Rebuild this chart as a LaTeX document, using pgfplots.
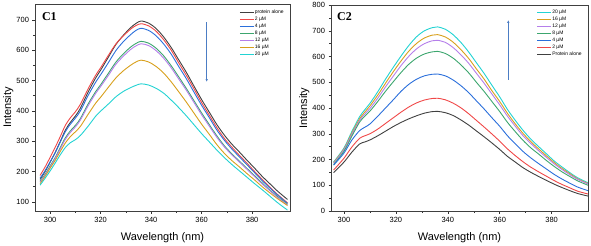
\documentclass[border=0pt]{standalone}
\usepackage{pgfplots}
\pgfplotsset{compat=1.18}
\usepackage{pgfplotstable}
\usepackage{fontspec}
\setmainfont{Liberation Sans}
\newfontfamily\serifb{Liberation Serif}
\usetikzlibrary{arrows.meta}
\definecolor{cblack}{HTML}{404040}
\definecolor{cred}{HTML}{F04848}
\definecolor{cblue}{HTML}{2B6FDB}
\definecolor{cgreen}{HTML}{3CA66E}
\definecolor{cpurple}{HTML}{B57FEA}
\definecolor{corange}{HTML}{D8A01C}
\definecolor{ccyan}{HTML}{22D3D3}
\definecolor{carrow}{HTML}{4C7DC4}

\pgfplotstableread{
wl  k   r   b   g   p   o   c
296 174 187 178 168 165 160 155
298 200 215 203 191 188 184 178
300 231 247 232 219 215 211 202
302 263 280 262 246 243 237 228
304 299 315 297 279 274 266 255
306 336 352 331 311 306 294 279
308 362 377 356 334 329 315 295
310 383 397 376 352 347 331 305
312 409 422 400 375 370 349 319
315 461 472 450 422 416 388 349
318 508 517 494 463 457 425 382
320 534 542 519 486 480 445 399
323 576 582 558 523 516 477 422
326 618 620 598 560 553 508 446
329 649 647 628 588 580 532 464
332 675 670 652 611 603 551 477
334 688 681 665 622 614 561 484
336 696 687 672 629 621 567 489
339 689 680 665 623 615 561 485
342 671 662 647 606 598 546 474
345 643 634 620 581 573 524 458
348 608 599 586 548 541 495 435
351 567 557 545 511 504 462 410
354 526 516 505 473 467 428 383
357 481 472 461 433 427 392 354
360 437 427 418 393 387 356 325
363 396 386 378 355 350 323 298
366 355 345 337 318 313 289 271
369 320 309 303 285 281 260 246
372 290 280 274 258 255 236 223
375 264 253 248 234 231 215 202
378 237 227 222 210 207 193 181
381 211 200 196 186 183 172 160
384 184 174 170 162 159 150 140
387 160 149 146 139 137 130 119
390 136 125 123 118 115 111 98
394 108 97  95  92  90  88  73
}\lefttab

\pgfplotstableread{
wl  k   r   b   g   p   o   c
296 149 159 178 180 185 188 190
300 190 205 225 232 238 241 245
303 228 248 275 290 297 302 308
306 260 282 312 345 352 358 366
308 268 292 325 368 376 384 393
310 276 300 338 388 398 408 418
313 292 318 368 425 438 450 463
316 310 340 400 465 482 496 512
319 328 362 432 502 524 541 558
322 344 384 465 538 565 583 602
325 358 404 492 570 601 621 643
328 370 420 512 594 630 651 677
331 380 431 525 610 650 672 700
334 386 437 531 618 661 683 712
336 387 438 532 620 663 685 715
339 382 432 525 612 655 676 706
342 371 419 509 594 635 656 685
345 354 401 487 568 607 627 655
348 334 378 460 537 574 593 618
351 311 352 428 500 535 552 576
354 288 326 396 464 496 512 534
357 264 299 362 425 454 467 488
360 239 271 329 386 412 425 443
363 212 241 292 344 368 379 394
366 190 215 261 308 329 338 352
369 168 191 231 274 292 301 313
372 150 170 206 245 262 269 279
375 134 152 184 221 234 241 250
378 119 135 163 196 208 214 222
381 104 118 142 173 183 188 194
384 91  103 124 152 161 165 171
387 79  90  108 134 141 145 149
390 68  77  93  117 123 125 129
394 58  66  79  100 105 107 110
}\righttab

\pgfplotsset{
  spec/.style={
    scale only axis,
    xtick={300,320,...,380},
    minor x tick num=1,
    minor y tick num=1,
    tick align=outside,
    xtick pos=lower, ytick pos=left,
    major tick length=2.5pt, minor tick length=1.6pt,
    tick style={black!80, line width=0.5pt},
    axis line style={black!75, line width=0.8pt},
    /pgf/number format/assume math mode=true,
    tick label style={font=\fontsize{7.5}{8}\selectfont},
    xlabel={Wavelength (nm)}, ylabel={Intensity},
    label style={font=\fontsize{11}{12}\selectfont},
    xlabel style={at={([yshift=-29pt]axis description cs:0.5,0)}, anchor=base},
    ylabel style={at={([xshift=-24pt]axis description cs:0,0.5)}, anchor=base},
    every axis plot/.append style={line width=0.9pt, no marks, smooth},
    legend cell align=left,
    legend image code/.code={\draw[#1, line width=0.9pt] (0pt,0pt) -- (14pt,0pt);},
    legend style={draw=none, fill=none, anchor=north east,
      font=\fontsize{5}{5}\selectfont,
      nodes={inner sep=0.5pt, text height=4pt, text depth=1pt},
      row sep=1pt},
  }
}

\begin{document}
\begin{tikzpicture}
\useasboundingbox (0,0) rectangle (591pt,246pt);
\begin{axis}[spec, at={(35pt,35pt)}, anchor=south west,
  width=255pt, height=207pt,
  xmin=294, xmax=395, ymin=70, ymax=752,
  ytick={100,200,...,700},
  legend style={at={(rel axis cs:0.99,0.985)}}]
\addplot[cblack] table[x=wl,y=k]{\lefttab}; \addlegendentry{protein alone}
\addplot[cred] table[x=wl,y=r]{\lefttab}; \addlegendentry{2 µM}
\addplot[cblue] table[x=wl,y=b]{\lefttab}; \addlegendentry{4 µM}
\addplot[cgreen] table[x=wl,y=g]{\lefttab}; \addlegendentry{8 µM}
\addplot[cpurple] table[x=wl,y=p]{\lefttab}; \addlegendentry{12 µM}
\addplot[corange] table[x=wl,y=o]{\lefttab}; \addlegendentry{16 µM}
\addplot[ccyan] table[x=wl,y=c]{\lefttab}; \addlegendentry{20 µM}
\node[font=\serifb\bfseries\fontsize{12}{12}\selectfont, anchor=north west, inner sep=0pt] at (rel axis cs:0.027,0.961) {C1};
\draw[carrow, line width=0.7pt, -{Latex[length=3pt,width=2.5pt]}] (axis cs:362,692) -- (axis cs:362,495);
\end{axis}

\begin{axis}[spec, at={(331pt,35pt)}, anchor=south west,
  width=257pt, height=206pt,
  xmin=295, xmax=394, ymin=0, ymax=800,
  ytick={0,100,...,800},
  legend style={at={(rel axis cs:0.99,0.99)}}]
\addplot[ccyan] table[x=wl,y=c]{\righttab}; \addlegendentry{20 µM}
\addplot[corange] table[x=wl,y=o]{\righttab}; \addlegendentry{16 µM}
\addplot[cpurple] table[x=wl,y=p]{\righttab}; \addlegendentry{12 µM}
\addplot[cgreen] table[x=wl,y=g]{\righttab}; \addlegendentry{8 µM}
\addplot[cblue] table[x=wl,y=b]{\righttab}; \addlegendentry{4 µM}
\addplot[cred] table[x=wl,y=r]{\righttab}; \addlegendentry{2 µM}
\addplot[cblack] table[x=wl,y=k]{\righttab}; \addlegendentry{Protein alone}
\node[font=\serifb\bfseries\fontsize{12}{12}\selectfont, anchor=north west, inner sep=0pt] at (rel axis cs:0.023,0.966) {C2};
\draw[carrow, line width=0.7pt, -{Latex[length=3pt,width=2.5pt]}] (axis cs:363.3,509) -- (axis cs:363.3,742);
\end{axis}
\end{tikzpicture}
\end{document}
